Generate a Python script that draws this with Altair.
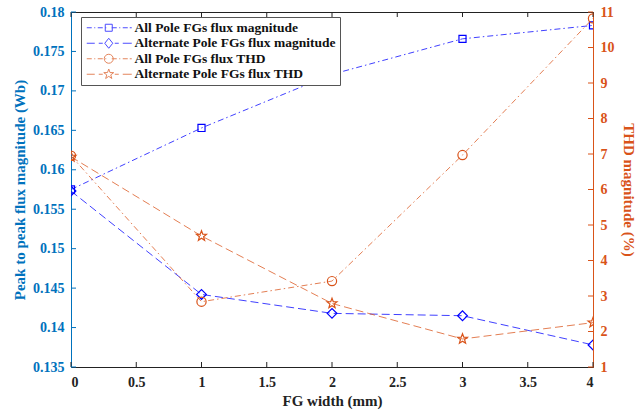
import math
import altair as alt
import pandas as pd

# ---------------- data ----------------
fg_width = [0, 1, 2, 3, 4]
all_pole_flux = [0.1575, 0.1653, 0.1721, 0.1766, 0.1783]
alt_pole_flux = [0.1573, 0.1442, 0.1418, 0.1415, 0.1378]
all_pole_thd = [6.95, 2.84, 3.42, 6.97, 10.82]
alt_pole_thd = [6.92, 4.69, 2.79, 1.79, 2.25]

series_names = [
    "All Pole FGs flux magnitude",
    "Alternate Pole FGs flux magnitude",
    "All Pole FGs flux THD",
    "Alternate Pole FGs flux THD",
]
x_ticks = [0, 0.5, 1, 1.5, 2, 2.5, 3, 3.5, 4]
left_ticks = [0.135, 0.14, 0.145, 0.15, 0.155, 0.16, 0.165, 0.17, 0.175, 0.18]
right_ticks = [1, 2, 3, 4, 5, 6, 7, 8, 9, 10, 11]

# ---------------- style ----------------
BLUE = "#0000FF"
ORANGE = "#D95319"
LEFT_AX = "#0072BD"
DARK = "#222222"
FONT = "Liberation Serif"
DASHDOT = [6, 3, 1.5, 3]
DASHED = [8, 4]
TL = 5  # inward tick length

W, H = 522, 355


def star_path(cx, r_out, r_in):
    pts = []
    for k in range(10):
        r = r_out if k % 2 == 0 else r_in
        a = -math.pi / 2 + k * math.pi / 5
        pts.append((cx + r * math.cos(a), r * math.sin(a)))
    return "M" + "L".join(f"{px:.3f},{py:.3f}" for px, py in pts) + "Z"


STAR = star_path(0, 1.0, 0.42)

x_scale = alt.Scale(domain=[0, 4], nice=False, zero=False)
yl_scale = alt.Scale(domain=[0.135, 0.18], nice=False, zero=False)
yr_scale = alt.Scale(domain=[1, 11], nice=False, zero=False)

x_bottom = alt.X(
    "x:Q", scale=x_scale,
    axis=alt.Axis(
        orient="bottom", values=x_ticks, format="~g", grid=False, ticks=False,
        title="FG width (mm)", titleFont=FONT, titleFontSize=15, titleFontWeight="bold",
        titleColor=DARK, titlePadding=4,
        labelFont=FONT, labelFontSize=14, labelFontWeight="bold", labelColor=DARK,
        labelPadding=8, domainColor=DARK,
    ),
)
x_top = alt.X("x:Q", scale=x_scale, axis=None)
y_left = alt.Y(
    "y:Q", scale=yl_scale,
    axis=alt.Axis(
        orient="left", values=left_ticks, format="~g", grid=False, ticks=False,
        title="Peak to peak flux magnitude (Wb)", titleFont=FONT, titleFontSize=15,
        titleFontWeight="bold", titleColor=LEFT_AX, titlePadding=5,
        labelFont=FONT, labelFontSize=14, labelFontWeight="bold", labelColor=LEFT_AX,
        labelPadding=7, domainColor=LEFT_AX,
    ),
)
y_right = alt.Y(
    "y:Q", scale=yr_scale,
    axis=alt.Axis(
        orient="right", values=right_ticks, format="~g", grid=False, ticks=False,
        title="THD magnitude (%)", titleFont=FONT, titleFontSize=15,
        titleFontWeight="bold", titleColor=ORANGE, titlePadding=6,
        labelFont=FONT, labelFontSize=14, labelFontWeight="bold", labelColor=ORANGE,
        labelPadding=7, domainColor=ORANGE,
    ),
)


def series(ys, xenc, yenc, color, dash, shape, size):
    d = pd.DataFrame({"x": fg_width, "y": ys})
    line = alt.Chart(d).mark_line(
        stroke=color, strokeWidth=1, strokeDash=dash, opacity=0.75, clip=True
    ).encode(x=xenc, y=yenc)
    pts = alt.Chart(d).mark_point(
        shape=shape, size=size, stroke=color, strokeWidth=1.2, filled=False,
        opacity=1, clip=True
    ).encode(x=xenc, y=yenc)
    return [line, pts]


# inward tick marks (MATLAB style box ticks)
xt = pd.DataFrame({"x": x_ticks})
lt = pd.DataFrame({"y": left_ticks})
rt = pd.DataFrame({"y": right_ticks})
ticks_bottom = alt.Chart(xt).mark_rule(stroke=DARK, strokeWidth=1).encode(
    x=x_bottom, y=alt.value(H), y2=alt.value(H - TL))
ticks_top = alt.Chart(xt).mark_rule(stroke=DARK, strokeWidth=1).encode(
    x=x_bottom, y=alt.value(0), y2=alt.value(TL))
ticks_left = alt.Chart(lt).mark_rule(stroke=LEFT_AX, strokeWidth=1).encode(
    y=y_left, x=alt.value(0), x2=alt.value(TL))
ticks_right = alt.Chart(rt).mark_rule(stroke=ORANGE, strokeWidth=1).encode(
    y=y_right, x=alt.value(W), x2=alt.value(W - TL))

left = alt.layer(
    ticks_bottom, ticks_top, ticks_left,
    *series(all_pole_flux, x_bottom, y_left, BLUE, DASHDOT, "square", 50),
    *series(alt_pole_flux, x_bottom, y_left, BLUE, DASHED, "diamond", 95),
)
right = alt.layer(
    ticks_right,
    *series(all_pole_thd, x_top, y_right, ORANGE, DASHDOT, "circle", 85),
    *series(alt_pole_thd, x_top, y_right, ORANGE, DASHED, STAR, 110),
)

# ---------------- legend symbols (line + marker glyphs) ----------------
U = 5.0  # px per path unit for symbolSize 100
X0 = -5.0  # line start relative to symbol centre (px)
MX = X0 + 22.0  # marker centre (px)


def u(px):
    return f"{px / U:.3f}"


def segs(pairs):
    return "".join(f"M{u(X0 + a)},0H{u(X0 + b)}" for a, b in pairs)


dd_segs = segs([(0, 5), (7.5, 8.5), (11, 16), (18.5, 19.5), (25, 30), (32.5, 33.5), (36, 41), (43, 45)])
da_segs = segs([(0, 8), (12, 16), (28, 32), (36, 45)])

c = MX / U
sq = f"M{c-0.7:.3f},-0.7H{c+0.7:.3f}V0.7H{c-0.7:.3f}Z"
di = f"M{c:.3f},-1L{c+0.8:.3f},0L{c:.3f},1L{c-0.8:.3f},0Z"
ci = f"M{c+0.9:.3f},0A0.9,0.9,0,1,1,{c-0.9:.3f},0A0.9,0.9,0,1,1,{c+0.9:.3f},0Z"
st = star_path(c, 1.05, 0.42)

legend_paths = [dd_segs + sq, da_segs + di, dd_segs + ci, da_segs + st]
legend_colors = [BLUE, BLUE, ORANGE, ORANGE]

leg = alt.Legend(
    title=None, orient="none", legendX=10, legendY=5,
    symbolSize=100, symbolStrokeWidth=1, symbolFillColor="transparent",
    labelFont=FONT, labelFontSize=13.5, labelFontWeight="bold", labelColor="#111111",
    labelOffset=36, rowPadding=0.5, padding=4,
    strokeColor="#555555", fillColor="white", labelLimit=400,
)
legend_layer = alt.Chart(pd.DataFrame({"series": series_names})).mark_point(
    filled=False
).encode(
    shape=alt.Shape("series:N", scale=alt.Scale(domain=series_names, range=legend_paths), legend=leg),
    stroke=alt.Stroke("series:N", scale=alt.Scale(domain=series_names, range=legend_colors), legend=leg),
).transform_filter("false")

chart = alt.layer(left, right, legend_layer).resolve_scale(
    x="independent", y="independent"
).properties(
    width=W, height=H,
    autosize=alt.AutoSizeParams(type="none"),
    padding={"left": 71, "top": 12, "right": 46, "bottom": 50},
    background="white",
).configure_view(stroke=DARK, strokeWidth=1)

chart.save("out.html", embed_options={"renderer": "svg", "actions": False})
